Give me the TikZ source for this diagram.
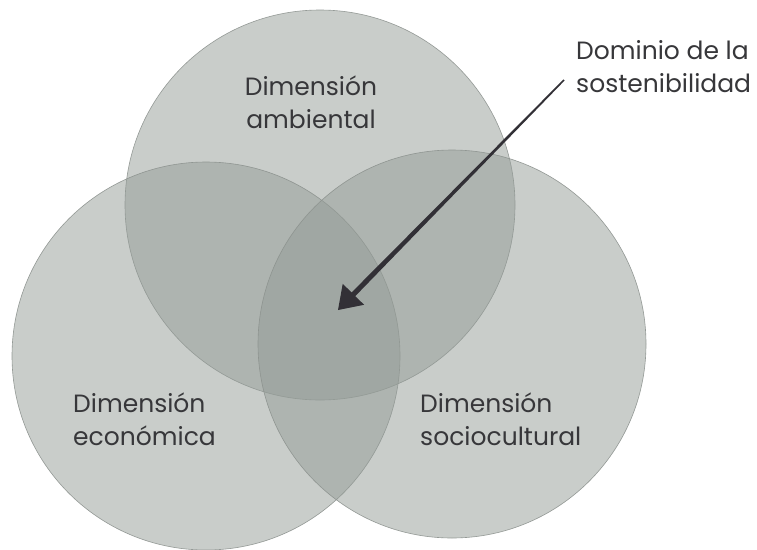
\documentclass[tikz,border=0pt]{standalone}
\usepackage{fontspec}
\setmainfont{Poppins}
\usetikzlibrary{calc}
\definecolor{circfill}{RGB}{148,156,151}
\definecolor{circedge}{RGB}{140,146,142}
\definecolor{txt}{RGB}{55,55,58}
\definecolor{arrowc}{RGB}{50,48,54}
\tikzset{
  setc/.style={fill=circfill, fill opacity=0.5, draw=circedge, draw opacity=0.9, line width=0.6pt},
  lbl/.style={inner sep=0pt, text=txt, font=\fontsize{25}{33}\selectfont},
}
\begin{document}
\begin{tikzpicture}[x=1pt,y=-1pt]
\useasboundingbox (0,0) rectangle (757,549);
\fill[white] (0,0) rectangle (757,549);
% circles
\path[setc] (320,205) circle[radius=195];
\path[setc] (206,356) circle[radius=194];
\path[setc] (452,344) circle[radius=194];
% labels (anchor = baseline of last line)
\node[lbl, align=center, anchor=base] (amb) at (311,128) {Dimensión\\ambiental};
\node[lbl, align=left, anchor=base west] (eco) at (73,445) {Dimensión\\económica};
\node[lbl, align=left, anchor=base west] (soc) at (420,445) {Dimensión\\sociocultural};
\node[lbl, align=left, anchor=base west] (dom) at (576,92) {Dominio de la\\sostenibilidad};
% arrow
\coordinate (s) at (564,80);
\coordinate (t) at (338,310);
\coordinate (b) at ($(t)!22pt!(s)$);
\fill[arrowc] ($(s)!0.8pt!90:(t)$) -- ($(b)!2.6pt!90:(t)$) -- ($(b)!15pt!90:(t)$) -- (t)
  -- ($(b)!15pt!-90:(t)$) -- ($(b)!2.6pt!-90:(t)$) -- ($(s)!0.8pt!-90:(t)$) -- cycle;
\end{tikzpicture}
\end{document}
